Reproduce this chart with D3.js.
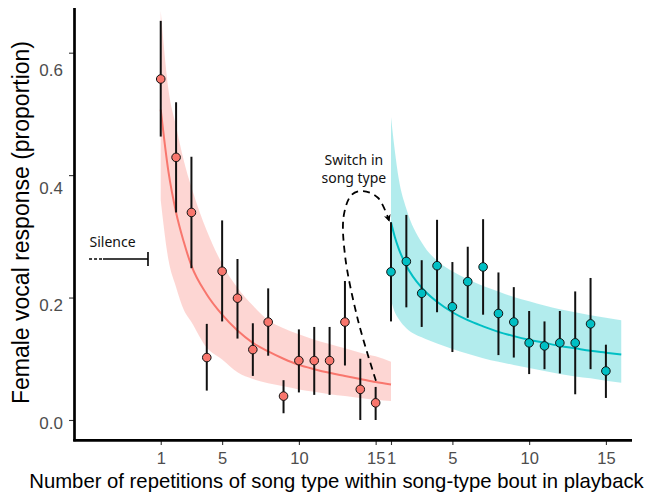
<!DOCTYPE html>
<html>
<head>
<meta charset="utf-8">
<script src="https://cdn.jsdelivr.net/npm/d3@7"></script>
<style>
  html, body { margin: 0; padding: 0; background: #ffffff; }
  svg { display: block; }
</style>
</head>
<body>
<script>
// ---------- data ----------
// positions 1..15 = first song type, 16..30 = after switch (labelled 1..15)
const redPos   = [1,2,3,4,5,6,7,8,9,10,11,12,13,14,15];
const redMean  = [0.557,0.429,0.339,0.102,0.243,0.199,0.115,0.160,0.039,0.097,0.097,0.097,0.160,0.050,0.028];
const redLow   = [0.463,0.339,0.248,0.048,0.161,0.133,0.072,0.105,0.011,0.045,0.041,0.041,0.089,0.000,0.000];
const redHigh  = [0.652,0.519,0.430,0.157,0.326,0.263,0.158,0.215,0.065,0.148,0.152,0.152,0.227,0.100,0.054];

const cyanPos  = [16,17,18,19,20,21,22,23,24,25,26,27,28,29,30];
const cyanMean = [0.242,0.259,0.207,0.252,0.185,0.226,0.250,0.174,0.160,0.126,0.121,0.126,0.126,0.157,0.080];
const cyanLow  = [0.161,0.184,0.152,0.176,0.111,0.167,0.172,0.106,0.102,0.075,0.083,0.076,0.042,0.083,0.036];
const cyanHigh = [0.323,0.335,0.261,0.327,0.258,0.283,0.328,0.241,0.217,0.178,0.161,0.178,0.210,0.232,0.123];

// fitted curves with confidence bands
const redFitX    = [1,1.5,2,2.5,3,4,5,6,7,8,9,10,11,12,13,14,15,16];
const redFit     = [0.507,0.406,0.339,0.291,0.252,0.205,0.172,0.146,0.126,0.112,0.100,0.090,0.083,0.077,0.072,0.067,0.062,0.058];
const redBandLo  = [0.359,0.262,0.217,0.180,0.160,0.118,0.099,0.078,0.067,0.060,0.055,0.050,0.046,0.042,0.039,0.036,0.033,0.031];
const redBandHi  = [0.668,0.540,0.480,0.424,0.380,0.309,0.255,0.216,0.187,0.163,0.150,0.140,0.131,0.124,0.117,0.110,0.104,0.095];

const cyanFitX   = [16,16.25,16.5,17,18,19,20,21,22,23,24,25,26,27,28,29,30,31];
const cyanFit    = [0.323,0.299,0.280,0.252,0.216,0.193,0.176,0.163,0.153,0.144,0.137,0.131,0.126,0.121,0.117,0.113,0.110,0.107];
const cyanBandLo = [0.196,0.176,0.165,0.150,0.135,0.125,0.116,0.108,0.101,0.095,0.090,0.085,0.080,0.075,0.071,0.068,0.064,0.061];
const cyanBandHi = [0.495,0.440,0.395,0.345,0.290,0.260,0.243,0.230,0.219,0.210,0.201,0.194,0.187,0.181,0.176,0.171,0.167,0.163];

// axes
const yTicks      = [0, 0.2, 0.4, 0.6];
const xTickPos    = [1, 5, 10, 15, 16, 20, 25, 30];
const xTickLabels = ["1","5","10","15","1","5","10","15"];

// annotations (data units)
const silenceValue = 0.263;
const silenceX = [-3.67, -2.76, 0.17];   // dotted start, solid start, cap
const switchArrowX = [15.02, 13.85, 13.0, 12.93, 13.45, 14.17, 15.15, 15.87];
const switchArrowY = [0.064, 0.163, 0.27, 0.335, 0.368, 0.374, 0.363, 0.326];
const switchText = ["Switch in", "song type"];

// ---------- drawing ----------
const W = 649, H = 496;
const red = "#F8766D", cyan = "#00BFC4";
const svg = d3.select("body").append("svg").attr("width", W).attr("height", H);

const x = d3.scaleLinear().domain([-4.65, 31.7]).range([74, 632]);
const y = d3.scaleLinear().domain([-0.0327, 0.673]).range([440, 8]);
const yLab = d3.scaleLinear().domain(y.domain()).range([441.9, 27.4]);

// bands
const area = d3.area().curve(d3.curveMonotoneX)
  .x(d => x(d.x)).y0(d => y(d.lo)).y1(d => y(d.hi));
const line = d3.line().curve(d3.curveMonotoneX)
  .x(d => x(d.x)).y(d => y(d.v));

const redBand = redFitX.map((v,i) => ({x: v, lo: redBandLo[i], hi: redBandHi[i], v: redFit[i]}));
const cyanBand = cyanFitX.map((v,i) => ({x: v, lo: cyanBandLo[i], hi: cyanBandHi[i], v: cyanFit[i]}));

svg.append("path").datum(redBand).attr("d", area).attr("fill", red).attr("fill-opacity", 0.3);
svg.append("path").datum(cyanBand).attr("d", area).attr("fill", cyan).attr("fill-opacity", 0.3);
svg.append("path").datum(redBand).attr("d", line).attr("fill", "none").attr("stroke", red).attr("stroke-width", 2);
svg.append("path").datum(cyanBand).attr("d", line).attr("fill", "none").attr("stroke", cyan).attr("stroke-width", 2);

// error bars and points
function series(pos, mean, lo, hi, col) {
  const data = pos.map((p,i) => ({p, m: mean[i], lo: lo[i], hi: hi[i]}));
  const g = svg.append("g");
  g.selectAll("line").data(data).join("line")
    .attr("x1", d => x(d.p)).attr("x2", d => x(d.p))
    .attr("y1", d => y(d.lo)).attr("y2", d => y(d.hi))
    .attr("stroke", "#111").attr("stroke-width", 2);
  g.selectAll("circle").data(data).join("circle")
    .attr("cx", d => x(d.p)).attr("cy", d => y(d.m)).attr("r", 4.3)
    .attr("fill", col).attr("stroke", "#111").attr("stroke-width", 1);
}
series(redPos, redMean, redLow, redHigh, red);
series(cyanPos, cyanMean, cyanLow, cyanHigh, cyan);

// axes
const yAx = svg.append("g").attr("transform", "translate(74,0)")
  .call(d3.axisLeft(y).tickValues(yTicks).tickSize(5).tickFormat(""));
yAx.select(".domain").remove();
yAx.selectAll("line").attr("stroke", "#333").attr("stroke-width", 1.1);

const yAxL = svg.append("g").attr("transform", "translate(74,0)")
  .call(d3.axisLeft(yLab).tickValues(yTicks).tickSize(0).tickPadding(11).tickFormat(d3.format(".1f")));
yAxL.select(".domain").remove();
yAxL.selectAll("text").attr("font-family", "Liberation Sans, Arial, sans-serif")
  .attr("font-size", 17).attr("fill", "#4d4d4d");

const xAx = svg.append("g").attr("transform", "translate(0,440)")
  .call(d3.axisBottom(x).tickValues(xTickPos).tickSize(5).tickPadding(7)
    .tickFormat((d,i) => xTickLabels[i]));
xAx.select(".domain").remove();
xAx.selectAll("line").attr("stroke", "#333").attr("stroke-width", 1.1);
xAx.selectAll("text").attr("font-family", "Liberation Sans, Arial, sans-serif")
  .attr("font-size", 16.5).attr("fill", "#4d4d4d");

// axis lines
svg.append("line").attr("x1", 74.5).attr("x2", 74.5).attr("y1", y.range()[1]).attr("y2", 441.3)
  .attr("stroke", "#000").attr("stroke-width", 2.7);
svg.append("line").attr("x1", 73.2).attr("x2", x.range()[1]).attr("y1", 440.3).attr("y2", 440.3)
  .attr("stroke", "#000").attr("stroke-width", 2.7);

// axis titles
svg.append("text").attr("x", 336.5).attr("y", 487.5).attr("text-anchor", "middle")
  .attr("font-family", "Liberation Sans, Arial, sans-serif").attr("font-size", 20.3).attr("fill", "#000")
  .text("Number of repetitions of song type within song-type bout in playback");
svg.append("text").attr("transform", "translate(28.5,222.5) rotate(-90)").attr("text-anchor", "middle")
  .attr("font-family", "Liberation Sans, Arial, sans-serif").attr("font-size", 23).attr("fill", "#000")
  .text("Female vocal response (proportion)");

// silence annotation
const annFont = "Noto Sans, Open Sans, sans-serif";
svg.append("line").attr("x1", x(silenceX[0])).attr("x2", x(silenceX[1]))
  .attr("y1", y(silenceValue)).attr("y2", y(silenceValue))
  .attr("stroke", "#000").attr("stroke-width", 1.6).attr("stroke-dasharray", "3,2");
svg.append("line").attr("x1", x(silenceX[1])).attr("x2", x(silenceX[2]))
  .attr("y1", y(silenceValue)).attr("y2", y(silenceValue))
  .attr("stroke", "#000").attr("stroke-width", 1.6);
svg.append("line").attr("x1", x(silenceX[2])).attr("x2", x(silenceX[2]))
  .attr("y1", y(silenceValue) - 7).attr("y2", y(silenceValue) + 7)
  .attr("stroke", "#000").attr("stroke-width", 1.6);
svg.append("text").attr("x", x(silenceX[0]) + 0.5).attr("y", y(silenceValue) - 11.5)
  .attr("font-family", annFont).attr("font-size", 14).attr("fill", "#111").text("Silence");

// switch annotation
svg.append("defs").append("marker").attr("id", "arr")
  .attr("viewBox", "0 0 10 10").attr("refX", 8).attr("refY", 5)
  .attr("markerWidth", 7).attr("markerHeight", 7).attr("markerUnits", "userSpaceOnUse")
  .attr("orient", "auto")
  .append("path").attr("d", "M0,0 L10,5 L0,10 L3,5 Z").attr("fill", "#000");
const arrowPts = switchArrowX.map((v,i) => [x(v), y(switchArrowY[i])]);
svg.append("path").attr("d", d3.line().curve(d3.curveCatmullRom)(arrowPts))
  .attr("fill", "none").attr("stroke", "#000").attr("stroke-width", 1.8)
  .attr("stroke-dasharray", "7,5").attr("marker-end", "url(#arr)");
svg.append("text").attr("x", x(13.58)).attr("text-anchor", "middle")
  .attr("font-family", annFont).attr("font-size", 14).attr("fill", "#111")
  .selectAll("tspan").data(switchText).join("tspan")
  .attr("x", x(13.58)).attr("y", (d,i) => i === 0 ? y(0.4167) : y(0.387))
  .text(d => d);
</script>
</body>
</html>
